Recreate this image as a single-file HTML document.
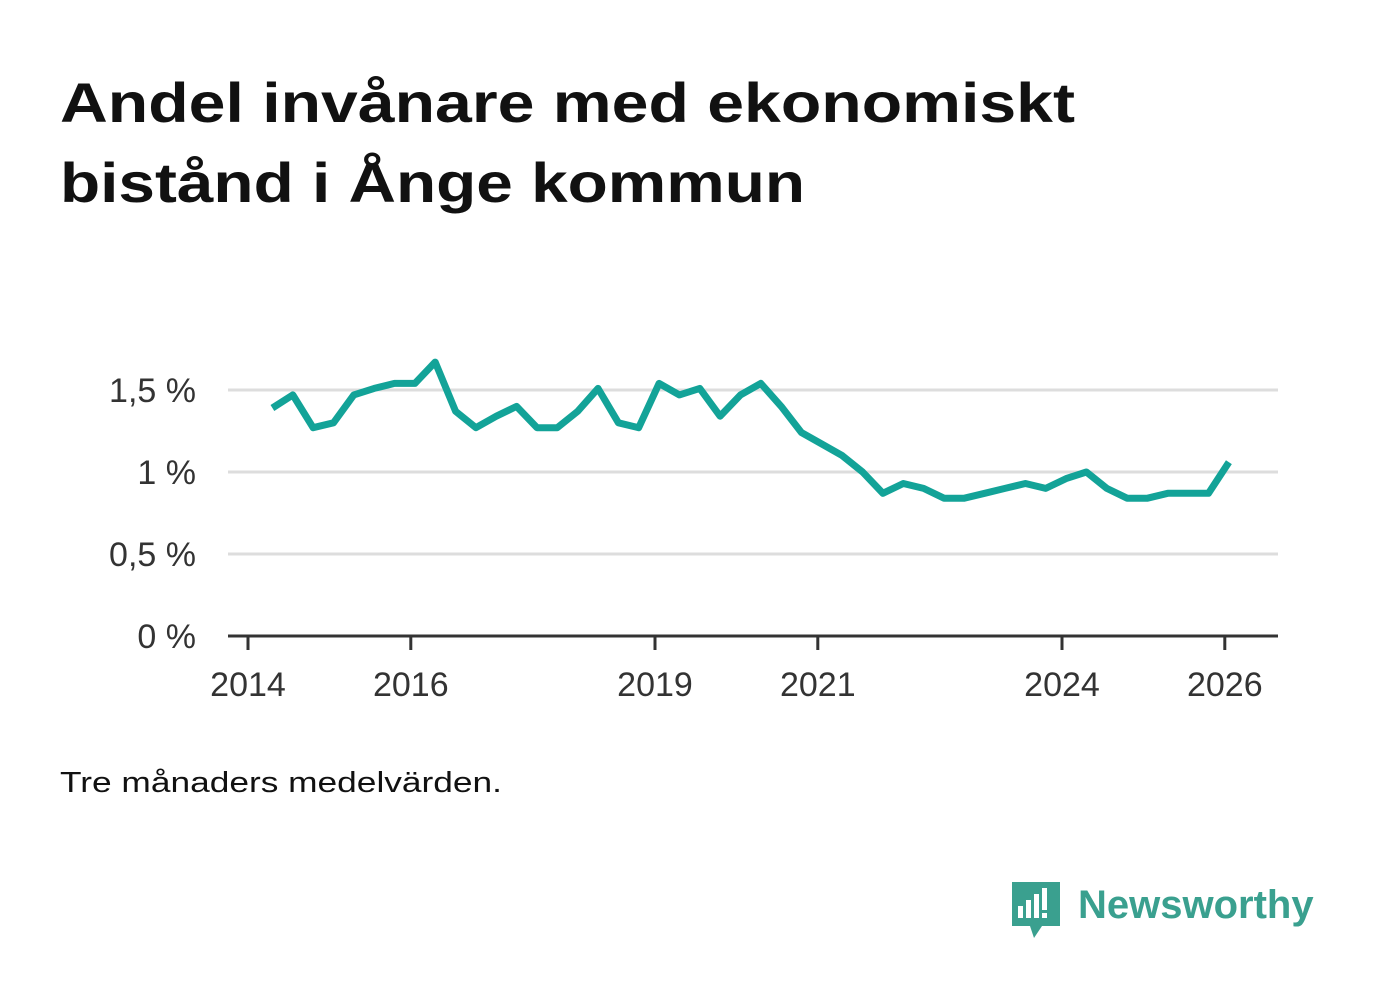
<!DOCTYPE html>
<html><head><meta charset="utf-8"><style>
body{margin:0;background:#fff;font-family:"Liberation Sans",sans-serif;}
svg text{font-family:"Liberation Sans",sans-serif;}
</style></head><body>
<svg width="1382" height="999">
<text x="60" y="122" font-size="56" font-weight="bold" fill="#111" textLength="1015" lengthAdjust="spacingAndGlyphs">Andel invånare med ekonomiskt</text>
<text x="60" y="202" font-size="56" font-weight="bold" fill="#111" textLength="745" lengthAdjust="spacingAndGlyphs">bistånd i Ånge kommun</text>
<g id="grid"></g><g id="xax"></g>
<path id="line" fill="none" stroke="#13a398" stroke-width="7" stroke-linejoin="round"/>
<text x="60" y="792" font-size="29" fill="#111" textLength="442" lengthAdjust="spacingAndGlyphs">Tre månaders medelvärden.</text>
<g>
<path d="M1012 882h48v44h-18l-8 12l-4-12h-18z" fill="#3aa08f"/>
<rect x="1018" y="906" width="5" height="12" fill="#fff"/><rect x="1026" y="900" width="5" height="18" fill="#fff"/><rect x="1034" y="894" width="5" height="24" fill="#fff"/><rect x="1042" y="888" width="5" height="22" fill="#fff"/><rect x="1042" y="913" width="5" height="5" fill="#fff"/>
<text x="1078" y="918" font-size="40" font-weight="bold" fill="#3aa08f">Newsworthy</text>
</g>
</svg>
<script>
const yTicks=[0,0.5,1,1.5];
const yLabels=["0 %","0,5 %","1 %","1,5 %"];
const xTicks=[2014,2016,2019,2021,2024,2026];
const startYear=2014.3;
const values=[1.39,1.47,1.27,1.30,1.47,1.51,1.54,1.54,1.67,1.37,1.27,1.34,1.40,1.27,1.27,1.37,1.51,1.30,1.27,1.54,1.47,1.51,1.34,1.47,1.54,1.40,1.24,1.17,1.10,1.00,0.87,0.93,0.90,0.84,0.84,0.87,0.90,0.93,0.90,0.96,1.00,0.90,0.84,0.84,0.87,0.87,0.87,1.06];
const ns="http://www.w3.org/2000/svg";
const X=t=>248+(t-2014)*81.4, Y=v=>636-v*164;
const g=document.getElementById('grid'),xa=document.getElementById('xax');
yTicks.forEach((v,i)=>{
 if(v>0){const l=document.createElementNS(ns,'line');
 l.setAttribute('x1',228);l.setAttribute('x2',1278);l.setAttribute('y1',Y(v));l.setAttribute('y2',Y(v));l.setAttribute('stroke','#ddd');l.setAttribute('stroke-width',3);
 
 
 g.appendChild(l);}
 const t=document.createElementNS(ns,'text');
 t.setAttribute('x',196);t.setAttribute('y',Y(v)+12);t.setAttribute('text-anchor','end');t.setAttribute('font-size',34);t.setAttribute('fill','#333');t.textContent=yLabels[i];
 
 
 g.appendChild(t);
});
const ax=document.createElementNS(ns,'line');
ax.setAttribute('x1',228);ax.setAttribute('x2',1278);ax.setAttribute('y1',636);ax.setAttribute('y2',636);ax.setAttribute('stroke','#333');ax.setAttribute('stroke-width',3);


xa.appendChild(ax);
xTicks.forEach(y=>{
 const l=document.createElementNS(ns,'line');
 l.setAttribute('x1',X(y));l.setAttribute('x2',X(y));l.setAttribute('y1',636);l.setAttribute('y2',650);l.setAttribute('stroke','#333');l.setAttribute('stroke-width',3);
 
 
 xa.appendChild(l);
 const t=document.createElementNS(ns,'text');
 t.setAttribute('x',X(y));t.setAttribute('y',696);t.setAttribute('text-anchor','middle');t.setAttribute('font-size',34);t.setAttribute('fill','#333');t.textContent=y;
 
 
 xa.appendChild(t);
});
document.getElementById('line').setAttribute('d',values.map((v,i)=>(i?'L':'M')+X(startYear+i*0.25).toFixed(1)+' '+Y(v).toFixed(1)).join(''));
</script>
</body></html>
